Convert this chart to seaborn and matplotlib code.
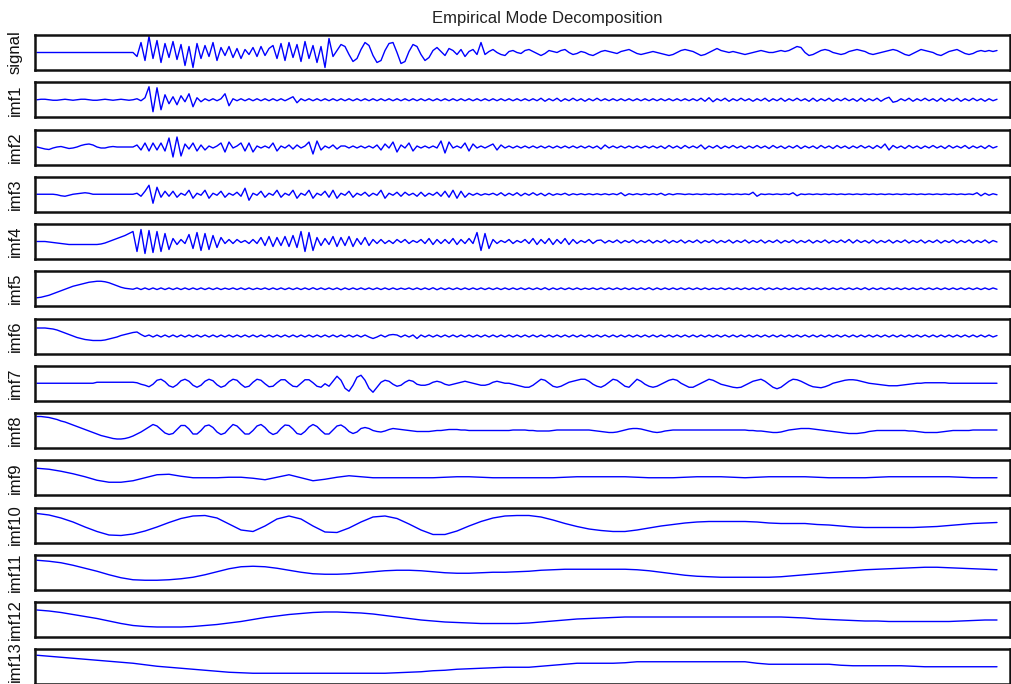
import numpy as np
import matplotlib
matplotlib.use('Agg')
import matplotlib.pyplot as plt
import seaborn as sns

# Nombres de las filas (señal original + modos intrínsecos)
labels = ['signal', 'imf1', 'imf2', 'imf3', 'imf4', 'imf5', 'imf6',
          'imf7', 'imf8', 'imf9', 'imf10', 'imf11', 'imf12', 'imf13']

# Valores (amplitud relativa, muestreo uniforme en el tiempo)
signal = [
    0, 0, 0, 0, 0, 0, 0, 0, 0, 0, 0, 0, 0, 0, 0, 0, 0, 0, 0, 0, 0, 0, 0, 0, 0,
    -4, 10, -8, 16, -6, 12, -10, 9, -5, 11, -7, 8, -13, 6, -15, 9, -6, 7, -4, 10,
    -8, 5, -3, 6, -5, 4, -6, 3, -2, 5, -4, 6, -3, 4, 7, -6, 9, -8, 10, -5,
    8, -9, 11, -6, 7, -10, 6, -15, 14, -4, 2, 8, 6, -2, -9, -6, 3, 10, 7, -3,
    -10, -8, 2, 9, 10, 0, -11, -9, 1, 8, 6, -2, -8, -5, 2, 5, 1, -3, 4, 2,
    -2, 3, -4, 1, 3, -2, 10, -2, 1, 3, 0, -2, -3, 1, 2, 0, -1, 2, 3, 1,
    -1, -3, -1, 2, 1, 0, 2, 3, 0, -2, -1, 1, 0, -2, -3, -1, 1, 2, 1, 0,
    -1, 1, 2, 3, 1, -1, -2, -1, 0, 1, 0, -1, -2, -3, -2, 0, 2, 3, 2, 1,
    -1, -3, -2, 0, 2, 4, 2, 1, 0, 1, 0, -1, -2, -1, 0, 1, 2, 1, 0, 0,
    1, 2, 1, 2, 4, 6, 5, 0, -3, -2, 0, 2, 3, 2, 0, -1, -2, -1, 1, 2,
    3, 2, 1, -1, -2, -1, 0, 1, 2, 3, 2, 0, -2, -3, -1, 1, 3, 2, 1, 0,
    -2, -3, -1, 1, 2, 3, 1, -1, -2, -1, 1, 2, 1, 2, 1, 2,
]

imf1 = [
    0, 0.5, 0.5, 0, -0.5, -0.5, 0, 0.5, 0, -0.5, 0, 0.5, 0.5, 0, -0.5, -0.5, 0, 0.5, 0, -0.5, 0, 0.5, 0, -0.5, 0,
    1, -1, 2, 13, -12, 12, -10, 5, -4, 3, -5, 4, -2, 6, -7,
    2, -2, 1, -1, 1, -1, 1, 6, -6,
    1, -1, 1, -1, 1, -1, 1, -1, 1, -1, 1, -1, 1, -1, 1, 3, -3,
    1, -1, 1, -1, 1, -1, 1, -1, 1, -1, 1, -1, 1, -1, 1, -1, 1, -1, 1, -1,
    1, -1, 1, -1, 1, -1, 1, -1, 1, -1, 1, -1, 1, -1, 1, -1, 1, -1, 1, -1,
    1, -1, 1, -1, 1, -1, 1, -1, 1, -1, 1, -1, 1, -1, 1, -1, 1, -1, 1, -1,
    1.5, -1.5, 1, -1, 1.5, -1.5, 1, -1, 1.5, -1, 1, -1.5, 1, -1, 1.5, -1, 1, -1, 1, -1,
    1, -1, 1, -1, 1, -1, 1, -1, 1, -1, 1, -1, 1, -1, 1, -1, 1, -1, 1, -1,
    1.5, -1.5, 2, -2, 1, -1, 1.5, -1.5, 1, -1, 1.5, -1, 1, -1.5, 1, -1, 1.5, -1.5, 1, -1,
    1.5, -1.5, 1, -1, 1.5, -1, 1, -1.5, 1.5, -1.5, 1, -1, 1.5, -1.5, 1, -1, 1.5, -1, 1, -1.5,
    1.5, -1.5, 1, -1, 1.5, -1.5, 1, 2.5, -2.5, -1.5, 1, -1, 1.5, -1.5, 1, -1, 1.5, -1, 1, -1.5,
    1.5, -1.5, 1, -1, 1.5, -1.5, 1, -1, 1.5, -1, 1, -1.5, 1, -1, 0.5,
]

imf2 = [
    0, -1, -2, -2.5, -1, 0, 0.5, -0.5, -1.5, -1, 0, 1.5, 2.5, 3, 2, 0, -1, -1, 0, 0.5, 0, 0, 0, 0, 0,
    2, -3, 4, -4, 4, -3, 4, -4, 9, -10, 10, -9, 3, -2, 4, -4, 2, -3, 1, -1, 1,
    4, -5, 5, -1, 1, 4, -4, 4, -5, 1, -1, 1, -1, 4, -4, 1, -1, 2, -2, 2, -1, 1,
    5, -7, 6, -3, 1, -1, 2, -2, 1, 1, -1, 1, -1, 1, -1, 1, -1, 2,
    -3, 3, -1, 5, -5, 2, -1, 4, -4, 1, -1, 1, -1, 1, -1, 6, -6, 5,
    -1, 1, -1, 4, -4, 3, -1, 1, -1, 1, 3, -3, 2,
    -1, 1, -1, 1, -1, 1, -1, 1, -1, 1, -1, 1, -1, 1, -1, 1, -1, 1, -1, 1,
    -1, 1, -1, 1, -2, 2, -1, 1, -1, 1, -1, 1, -1, 1, -1, 1, -1, 1, -1, 1,
    -1.5, 1.5, -1, 1, -1.5, 1.5, -1, 1, -1, 2, -2, 1, -1, 1.5, -1.5, 1, -1, 1.5, -1, 1,
    -1.5, 1, -1, 1.5, -1, 1, -1.5, 1.5, -1, 1, -1.5, 1, -1, 1.5, -1.5, 1, -1, 1, -1.5, 1.5,
    -1, 1, -1.5, 1.5, -1, 1, -1.5, 1, -1, 1.5, -1, 1, -1.5, 1.5, -1, 3, -3, 1.5, -1, 1,
    -1.5, 1.5, -1, 1, -1.5, 1, -1, 1.5, -1, 1, -1.5, 1.5, -1, 1, -1, 1.5, -1.5, 1, -1, 1,
    -1.5, 1.5, -1, 0.5,
]

imf3 = [
    0, 0, 0, 0, 0, -0.5, -1.5, -2, -1, 0, 0.5, 1, 1.5, 1, 0, 0, 0, 0, 0, 0, 0, 0, 0, 0, 0,
    1, -2, 3, 9, -9, 7, -3, 3, -2, 3, -3, 1, -1, 4, -4, 1, -1, 4, -4, 1, -1,
    3, -3, 1, -1, 2, -2, 6, -6, 1, -1, 3, -3, 1, -1, 4, -3, 1, -1, 4, -4,
    1, -1, 4, -4, 1, -1, 3, -3, 4, -4, 1, -1, 3, -3, 1, -1, 2, -2, 1, -1,
    4, -4, 1, -1, 2, -2, 2, -1, 1, -2, 2, -2, 1, -1, 2, -2, 3, -3, 4, -4, 3, -3, 1, -1,
    1, -1, 0.5, -0.5, 1, -1, 1.5, -1.5, 1, -1, 1.5, -1.5, 1, -1, 1.5, -1, 1, -1.5, 1, -1,
    0.5, -0.5, 1, -1, 0.5, -0.5, 0.5, -0.5, 0.5, -0.5, 0.5, -0.5, 0.5, -0.5, 0.5, -0.5,
    1.5, -1.5, 0.5, -0.5, 0.5, -0.5, 0.5, -0.5, 0.5, -0.5, 1, -1, 0.5, -0.5, 0.5,
    0.3, -0.3, 0.3, -0.3, 0.3, -0.3, 0.3, -0.3, 0.3, -0.3, 0.3, -0.3, 0.3, -0.3, 0.3, -0.3, 0.3, -0.3, 2, -2,
    0.3, -0.3, 0.3, -0.3, 0.3, -0.3, 0.3, -0.3, 1.5, -1.5, 0.3, -0.3, 0.3, -0.3, 0.3, -0.3, 0.3, -0.3, 0.3, -0.3,
    0.3, -0.3, 0.3, -0.3, 0.3, -0.3, 0.3, -0.3, 0.3, -0.3, 0.3, -0.3, 0.3, -0.3, 0.3, -0.3, 0.3, -0.3, 0.3, -0.3,
    0.3, -0.3, 0.3, -0.3, 0.3, -0.3, 0.3, -0.3, 0.3, -0.3, 0.3, -0.3, 0.3, -0.3, 1.5, -1.5, 1, -1, 0.5, -0.5,
]

imf4 = [
    0, 0, 0, -0.5, -1, -1.5, -2, -2.5, -3, -3, -3, -3, -3, -3, -3, -3, -2.5,
    -1.5, 0, 1.5, 3, 4.5, 6, 8, 10,
    -10, 12, -12, 11, -11, 10, -10, 8, -8, 3, -3, 2, -2,
    7, -7, 9, -9, 8, -8, 6, -6, 4, -2, 2, -2, 2, -1, 1, -2, 2, -2,
    4, -4, 5, -5, 4, -4, 5, -5, 6, -6, 10, -10, 9, -9, 4,
    -4, 3, -3, 5, -5, 4, -4, 5, -5, 3, -3, 4, -4, 2, -2,
    2, -2, 1, -2, 2, -1, 2, -2, 1, -1, 2, -2, 3, -3, 2, -2, 2, -2, 3, -3, 2, -2, 3, -2,
    9, -9, 8, -7,
    2, -2, 1, -1, 2, -2, 1, -1, 2, -2, 3, -3, 2, -2, 3, -3, 2, -2, 3, -3, 2, -2, 1, -1, 2, -2, 1,
    1.5, -1.5, 1, -1, 1.5, -1.5, 1, -1, 1.5, -1.5, 1, -1, 1.5, -1.5, 1, -1, 1.5, -1.5, 1, -1,
    1.5, -1.5, 1, -1, 1.5, -1.5, 1, -1, 1.5, -1.5, 1, -1, 1.5, -1.5, 1, -1, 1.5, -1.5, 1, -1,
    1.5, -1.5, 1, -1, 1.5, -1.5, 1, -1, 1.5, -1.5, 1, -1, 1.5, -1.5, 1, -1, 1.5, -1.5, 1, -1,
    1.5, -1, 2, -1.5, 1.5, -1, 1, -1.5, 1.5, -1.5, 1, -1, 1.5, -1.5, 1, -1, 1.5, -1.5, 1, -1,
    1.5, -1.5, 1, -1, 1.5, -1.5, 1, -1, 1.5, -1.5, 1, -1, 1.5, -1.5, 1, -1, 1.5, -1.5, 1, -0.5,
]

imf5 = [
    -9, -8.5, -7.5, -6.5, -5, -3.5, -2, -0.5, 1, 2.5, 3.5, 4.5, 5.5, 6.5, 7, 7.5, 7.5, 7, 6, 4.5,
    3, 1.5, 0.5, 0, -0.5,
    0.8, -0.8, 0.8, -0.8, 0.8, -0.8, 0.8, -0.8, 0.8, -0.8, 0.8, -0.8, 0.8, -0.8, 0.8, -0.8, 0.8, -0.8, 0.8, -0.8,
    0.8, -0.8, 0.6, -0.6, 0.8, -0.8, 0.8, -0.8, 0.8, -0.8, 0.6, -0.6, 0.8, -0.8, 0.8, -0.8, 0.8, -0.8, 0.8, -0.8,
    0.8, -0.8, 0.8, -0.8, 1, -0.8, 0.8, -0.8, 0.8, -0.8, 0.8, -1, 0.8, -0.8, 0.8, -0.8, 0.8, -0.8, 0.8, -0.8,
    0.8, -0.8, 0.8, -0.8, 0.8, -0.8, 0.6, -0.6, 0.8, -0.8, 0.8, -0.8, 0.8, -0.8, 1, -1, 0.8, -0.8, 0.8, -0.8,
    0.8, -0.8, 0.8, -0.8, 0.8, -0.8, 0.8, -0.8, 0.8, -0.8, 0.8, -0.8, 0.8, -0.8, 0.8, -0.8, 0.8, -0.8, 0.8, -0.8,
    0.8, -0.8, 1, -1, 0.8, -0.8, 0.8, -0.8, 0.8, -0.8, 0.8, -0.8, 0.6, -0.6, 0.8, -0.8, 0.8, -0.8, 0.8, -0.8,
    0.8, -0.8, 0.8, -0.8, 0.8, -0.8, 0.8, -0.8, 1, -1, 0.8, -0.8, 0.8, -0.8, 0.8, -0.8, 0.8, -0.8, 0.8, -0.8,
    0.8, -0.8, 0.8, -0.8, 0.6, -0.6, 0.8, -0.8, 0.8, -0.8, 0.8, -0.8, 0.8, -0.8, 0.8, -0.8, 1, -1, 0.8, -0.8,
    0.8, -0.8, 0.8, -0.8, 0.8, -0.8, 0.8, -0.8, 0.8, -0.8, 0.8, -0.8, 0.8, -0.8, 0.8, -0.8, 0.8, -0.8, 0.8, -0.8,
    0.8, -0.8, 1, -1, 0.8, -0.8, 0.8, -0.8, 0.8, -0.8, 0.8, -0.8, 0.8, -0.8, 0.8, -0.8, 0.8, -0.8, 0.8, -0.8,
    0.8, -0.8, 0.8, -0.8, 0.8, -0.8, 0.8, -0.8, 0.8, -0.8, 0.8, -0.8, 0.8, -0.8, 0.8, -0.5,
]

imf6 = [
    8, 8, 8, 7.5, 7, 6, 4.5, 3, 1.5, 0, -1.5, -2.5, -3.5, -4, -4.5, -4.5, -4.5, -4, -3, -2,
    -1, 0.5, 1.5, 2.5, 3.5, 4, 1.5, -0.5,
    1, -1, 1, -1, 1, -1, 1, -1, 1, -1, 1, -1, 1, -1, 1, -1, 1, -1, 1, -1,
    1, -1, 1, -1, 1, -1, 1, -1, 1, -1, 1, -1, 1, -1, 1, -1, 1, -1, 1, -1,
    1, -1, 1, -1, 1, -1, 1, -1, 1, -1, 1, -1, 1, -1, 1, -1, -2.5, -1, 1, -1,
    1, 1.5, 1, -1, 1, -1, 1, -2.5, 1, -1, 1, -1, 1, -1, 1, -1, 1, -1, 1, -1,
    1, -1, 1, -1, 1, -1, 1, -1, 1, -1, 1, -1, 1, -1, 1, -1, 1, -1, 1, -1,
    1, -1, 1, -1, 1, -1, 1, -1, 1, -1, 1, -1, 1, -1, 1, -1, 1, -1, 1, -1,
    1, -1, 1, -1, 1, -1, 1, -1, 1, -1, 1, -1, 1, -1, 1, -1, 1, -1, 1, -1,
    1, -1, 1, -1, 1, -1, 1, -1, 1, -1, 1, -1, 1, -1, 1, -1, 1, -1, 1, -1,
    1, -1, 1, -1, 1, -1, 1, -1, 1, -1, 1, -1, 1, -1, 1, -1, 1, -1, 1, -1,
    1, -1, 1, -1, 1, -1, 1, -1, 1, -1, 1, -1, 1, -1, 1, -1, 1, -1, 1, -1,
    1, -1, 1, -1, 1, -1, 1, -1, 1, -1, 1, -1, 0.5,
]

imf7 = [
    0, 0, 0, 0, 0, 0, 0, 0, 0, 0, 0, 0, 0, 0, 0, 1, 1, 1, 1, 1, 1, 1, 1, 1, 1,
    0.5, -1, -2,
    -3.5, -1, 3, 4, 1.5, -2.5, -4, -1.5, 2.5, 4, 2, -2, -4, -2, 2, 4, 2.5, -1.5,
    -4, -2.5, 1.5, 4, 3, -1, -4, -3, 1, 4, 3, -0.5, -3.5, -3, 0.5, 3.5, 3.5, 0,
    -3, -3.5, 0, 3.5, 3.5, 0.5, -3, -4, -0.5,
    -3, 2, 7, 3, -5, -8, -2, 6, 8, 3, -5, -9, -4,
    1, 3, 2, -1, -3, -2, 1, 3, 2, -1, -2,
    -2, -1, 1, 2, 1, -1, -2, -1, 0, 1, 2, 1, 0, -1, -2, -2, -1, 1, 2, 1, 0,
    0, -1, -2, -3, -4, -4, -2, 1, 4, 3, 0, -3, -4, -3, -1, 1, 2, 3, 4,
    4, 2, -1, -3, -4, -2, 1, 4, 3, 0, -3, -4, 0, 4, 2, -1, -3, -4,
    -3, -1, 1, 3, 4, 3, 0, -2, -4, -4, -2, 0, 2, 4, 3, 1, -1,
    -2, -3, -4, -4.5, -4, -2, 0, 2, 3, 4, 2, -1, -4, -5.5, -4, -1, 2, 4,
    3.5, 2, 0, -2, -3.5, -4, -4.5, -3.5, -2, 0, 1, 2, 3, 3.5, 3.5,
    3, 2, 1, 0, -0.5, -1, -1.5, -2, -2.5, -2.5, -2.5, -2, -1.5, -1, -0.5, 0, 0,
    0.5, 0.5, 0.5, 0.5, 0.5, 0.5, 0, 0, 0, 0, 0, 0, 0, 0, 0, 0, 0, 0, 0,
]

imf8 = [
    14, 14, 13.5, 13, 12, 11, 9.5, 8.5, 7, 5.5, 4, 2.5, 1, -0.5, -2, -3.5, -5, -6, -7, -8,
    -8.5, -8.5, -8, -7, -5.5, -3.5, -1.5, 1, 3.5,
    6, 4.5, 1, -2.5, -4, -3, 1, 5, 5, 1.5, -3.5, -3.5, 0, 4.5, 5.5, 3, -1.5, -4, -2.5, 2,
    6, 4.5, 0.5, -3.5, -3.5, 0, 4.5, 6, 3, -1.5, -4, -2.5, 2, 5.5, 5, 1.5, -3, -4, -1, 3.5,
    6, 4, 0, -3.5, -3.5, 0.5, 4.5, 5.5, 3, -1, -3, -1.5, 2, 3, 2, 0, -1, -1.5, -0.5, 1,
    2, 1.5, 1, 0.5, 0, -0.5, -1, -1, -1, -1, -0.5, 0, 0, 0.5, 1, 1, 1, 0.5, 0.5, 0, 0, 0,
    0, 0, 0, 0, 0, 0, 0, 0,
    0.5, 0.5, 0.5, 0.5, 0, 0, -0.5, -0.5, -0.5, -0.5, 0, 0.5, 0.5, 0.5, 0.5, 0.5, 0.5,
    0.5, 0.5, 0.5, 0, -0.5, -1, -1.5, -2, -2, -1.5, -0.5, 0.5, 1.5, 2, 2, 1.5, 0.5,
    -0.5, -1.5, -2, -1.5, -0.5,
    0, 0.5, 0.5, 0.5, 0.5, 0.5, 0.5, 0.5, 0.5, 0.5, 0.5, 0.5, 0.5, 0.5, 0.5, 0.5, 0.5, 0.5,
    0.5, 0.5, 0, 0, -0.5, -0.5, -1, -1.5, -2, -2, -1.5, -0.5,
    0.5, 1, 1.5, 2, 2, 2, 1.5, 1, 0.5, 0, -0.5, -1, -1.5,
    -2, -2.5, -3, -3, -3, -2.5, -2, -1, -0.5, 0, 0, 0, 0, 0, 0, 0, 0, -0.5, -0.5,
    -1, -1.5, -2, -2, -2, -2, -1.5, -1, -0.5, 0, 0, 0, 0, 0, 0.5, 0.5, 0.5, 0.5, 0.5, 0.5, 0.5,
]

imf9 = [
    9.5, 8.5, 6.5, 4, 1, -2.5, -4.5, -4.5, -3, 0, 3, 3.5, 1.5, 0, 0, 0, 0.5, 0.5, -0.5, -2,
    0.5, 3, 0, -3, -1.5, 0.5, 2, 1, 0, 0, 0, 0, 0, 0, 0.5, 1, 1, 0.5, 0, 0,
    0, 0, 0, 0, 0.5, 1, 1, 1, 1, 1, 0.5, 0, 0, 0, 0.5, 1, 1, 1, 0.5, 0,
    0.5, 1, 1, 1, 1, 0.5, 0, 0, 0, 0, 0.5, 1, 1, 1, 1, 1, 1, 0.5, 0, 0, 0,
]

imf10 = [
    11.5, 10, 7, 3, -2, -6.5, -10, -10.5, -9, -6, -2, 2.5, 6.5, 9, 9.5, 7, 1, -5, -6.5, -1,
    6, 9, 6, -1, -7, -7.5, -3, 3, 8, 9, 6.5, 1, -5, -9.5, -9.5, -6, -1, 3.5, 7, 9,
    9.5, 9.5, 8, 5, 1.5, -1.5, -4, -5.5, -6.5, -6.5, -5, -3, -1, 0.5, 2, 3, 3.5, 3.5, 3.5, 3.5,
    3, 2, 1.5, 1.5, 1.5, 0.5, 0, -1, -2, -2.5, -2.5, -2.5, -2.5, -2.5, -2, -1.5, -0.5, 0.5, 1.5, 2, 2.5,
]

imf11 = [
    12, 11, 9.5, 7, 4, 1, -2.5, -5.5, -7.5, -8, -8, -7.5, -6.5, -5, -2.5, 0.5, 3.5, 5.5, 6, 5.5,
    4, 2, 0, -1.5, -2, -2, -1.5, -0.5, 0.5, 1.5, 2, 2, 1.5, 0.5, -0.5, -1, -1, -0.5, 0, 0,
    0.5, 1, 2, 2.5, 3, 3, 3, 3, 3, 3, 2.5, 1.5, 0, -1.5, -3, -4, -4.5, -5, -5, -5,
    -5, -5, -4.5, -3.5, -2.5, -1.5, -0.5, 0.5, 1.5, 2.5, 3, 3.5, 4, 4.5, 5, 5, 4.5, 4, 3.5, 3, 2.5,
]

imf12 = [
    9.5, 8.5, 7, 5, 3, 1, -1.5, -4, -6, -7, -7.5, -7.5, -7.5, -7, -6, -5, -3.5, -2, 0, 2,
    3.5, 5, 6, 7, 7.5, 7.5, 7, 6.5, 5.5, 4, 2.5, 1, -0.5, -1.5, -2.5, -3, -3.5, -4, -4, -4,
    -4, -3.5, -2.5, -1.5, -0.5, 0.5, 1, 1.5, 2, 2.5, 2.5, 2.5, 2.5, 2.5, 2.5, 2.5, 2.5, 2.5, 2.5, 2.5,
    2.5, 2.5, 2.5, 2, 1.5, 0.5, 0, -0.5, -1, -1.5, -1.5, -2, -2, -2, -2, -2, -2, -1.5, -1, -0.5, -0.5,
]

imf13 = [
    11.5, 10.5, 9.5, 8.5, 7.5, 6.5, 5.5, 4.5, 3.5, 2, 0.5, -0.5, -1.5, -2.5, -3.5, -4.5, -5.5, -6, -6.5, -6.5,
    -6.5, -6.5, -6.5, -6.5, -6.5, -6.5, -6.5, -6.5, -6.5, -6.5, -6, -5.5, -5, -4, -3.5, -2.5, -2, -1.5, -1, -0.5,
    -0.5, -0.5, 0.5, 1.5, 2.5, 3.5, 3.5, 3.5, 3.5, 4, 5, 5, 5, 5, 5, 5, 5, 5, 5, 5,
    3.5, 2.5, 2.5, 2.5, 2.5, 2.5, 2.5, 1.5, 1, 1, 1, 1, 1, 0.5, 0, 0, 0, 0, 0, 0, 0,
]

series = [signal, imf1, imf2, imf3, imf4, imf5, imf6,
          imf7, imf8, imf9, imf10, imf11, imf12, imf13]

sns.set_theme(style='white')
plt.rcParams['font.family'] = ['Liberation Sans', 'DejaVu Sans']

W, H = 1011, 684
fig = plt.figure(figsize=(W / 100, H / 100), dpi=100)

for i, (lab, vals) in enumerate(zip(labels, series)):
    top = 35 + 47.25 * i
    ax = fig.add_axes([35 / W, 1 - (top + 35) / H, 975 / W, 35 / H])
    t = np.linspace(0, 960, len(vals))
    sns.lineplot(x=t, y=vals, ax=ax, color='#0000ff', linewidth=1.0)
    ax.set_xlim(-2, 973)
    ax.set_ylim(-17.5, 17.5)
    ax.set_xticks([])
    ax.set_yticks([])
    ax.set_xlabel('')
    ax.set_ylabel('')
    for sp in ax.spines.values():
        sp.set_linewidth(1.8)
        sp.set_color('#111111')
    # la última etiqueta se sube un poco para que quepa en la figura
    ly = min(top + 17.5, 662)
    fig.text(15 / W, 1 - ly / H, lab, rotation=90,
             ha='center', va='center', fontsize=12, color='#111111')

fig.text(547 / W, 1 - 18 / H, 'Empirical Mode Decomposition',
         ha='center', va='center', fontsize=12, color='#222222')

fig.savefig('out.png', dpi=100)
